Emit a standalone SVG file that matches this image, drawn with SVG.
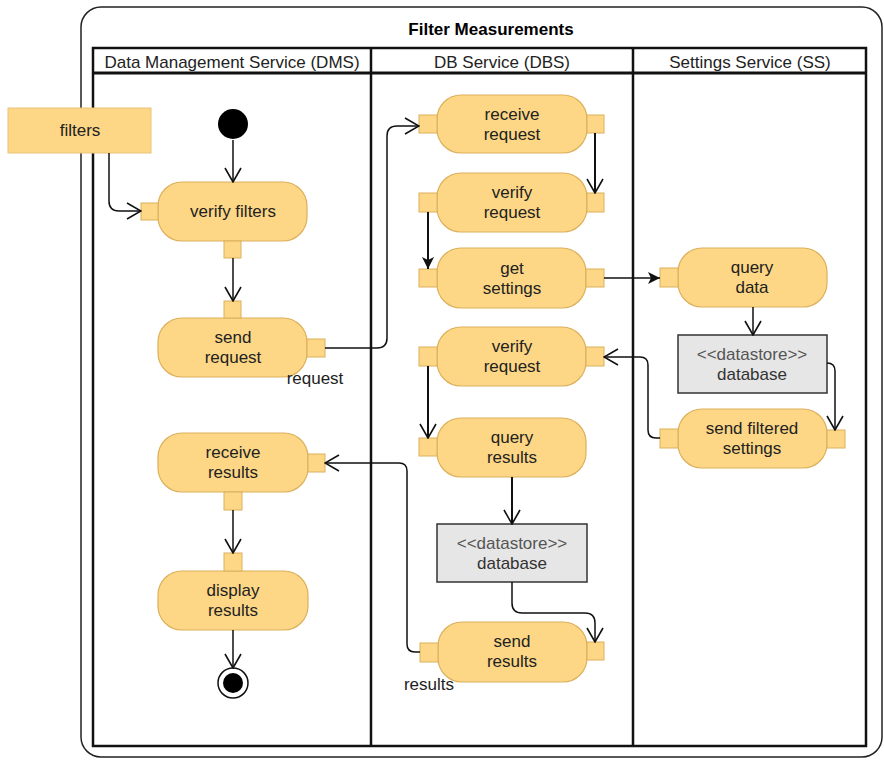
<svg xmlns="http://www.w3.org/2000/svg" width="884" height="760" viewBox="0 0 884 760">
<style>
text{font-family:"Liberation Sans",Arial,sans-serif;font-size:17px;fill:#222;text-anchor:middle}
.title{font-weight:bold;fill:#000}
.act{fill:#fdd785;stroke:#dcb05c;stroke-width:1.2}
.pin{fill:#fdd785;stroke:#dcb05c;stroke-width:1}
.ds{fill:#e6e6e6;stroke:#333;stroke-width:1.5}
.dst{fill:#555}
.c{fill:none;stroke:#111;stroke-width:1.5}
.c2{fill:none;stroke:#111;stroke-width:2}
.lbl{text-anchor:start}
</style>
<defs>
<marker id="open" viewBox="0 0 16 18" refX="15" refY="9" markerWidth="16" markerHeight="18" orient="auto" markerUnits="userSpaceOnUse">
<path d="M1,1 L15,9 L1,17" fill="none" stroke="#111" stroke-width="1.6"/>
</marker>
<marker id="fill" viewBox="0 0 12 12" refX="12" refY="6" markerWidth="12" markerHeight="12" orient="auto" markerUnits="userSpaceOnUse">
<path d="M0,0 L12,6 L0,12 L3,6 Z" fill="#111"/>
</marker>
</defs>
<rect width="884" height="760" fill="#fff"/>
<g id="frame">
<rect x="81" y="7" width="801" height="750" rx="20" fill="none" stroke="#222" stroke-width="1.5"/>
<text class="title" x="491" y="35">Filter Measurements</text>
</g>
<g id="pool">
<rect x="93" y="48" width="773" height="698" fill="none" stroke="#111" stroke-width="2.5"/>
<line x1="93" y1="73" x2="866" y2="73" stroke="#111" stroke-width="3"/>
<line x1="371" y1="48" x2="371" y2="746" stroke="#111" stroke-width="2.5"/>
<line x1="633" y1="48" x2="633" y2="746" stroke="#111" stroke-width="2.5"/>
<text x="232" y="68">Data Management Service (DMS)</text>
<text x="502" y="68">DB Service (DBS)</text>
<text x="750" y="68">Settings Service (SS)</text>
</g>
<g id="filters">
<rect x="8" y="108" width="143" height="45" fill="#fdd785" stroke="#e8c27a" stroke-width="1"/>
<text x="80" y="136">filters</text>
</g>
<g id="initial"><circle cx="233" cy="124" r="15" fill="#000"/></g>
<g id="verify-filters">
<rect class="act" x="158" y="182" width="149" height="59" rx="24"/>
<rect class="pin" x="141" y="203" width="17" height="17"/>
<rect class="pin" x="224" y="241" width="17" height="17"/>
<text x="233" y="217">verify filters</text>
</g>
<g id="send-request">
<rect class="act" x="158" y="318" width="149" height="59" rx="24"/>
<rect class="pin" x="224" y="301" width="17" height="17"/>
<rect class="pin" x="307" y="339" width="18" height="18"/>
<text x="233" y="343">send</text><text x="233" y="363">request</text>
<text x="315" y="384">request</text>
</g>
<g id="receive-request">
<rect class="act" x="437" y="95" width="150" height="58" rx="24"/>
<rect class="pin" x="419" y="115" width="18" height="18"/>
<rect class="pin" x="587" y="115" width="17" height="18"/>
<text x="512" y="120">receive</text><text x="512" y="140">request</text>
</g>
<g id="verify-request-1">
<rect class="act" x="437" y="173" width="150" height="59" rx="24"/>
<rect class="pin" x="419" y="193" width="18" height="19"/>
<rect class="pin" x="587" y="193" width="17" height="19"/>
<text x="512" y="198">verify</text><text x="512" y="218">request</text>
</g>
<g id="get-settings">
<rect class="act" x="437" y="248" width="149" height="60" rx="24"/>
<rect class="pin" x="419" y="269" width="18" height="18"/>
<rect class="pin" x="586" y="269" width="18" height="18"/>
<text x="512" y="274">get</text><text x="512" y="294">settings</text>
</g>
<g id="verify-request-2">
<rect class="act" x="437" y="327" width="149" height="59" rx="24"/>
<rect class="pin" x="419" y="347" width="18" height="19"/>
<rect class="pin" x="586" y="347" width="18" height="19"/>
<text x="512" y="352">verify</text><text x="512" y="372">request</text>
</g>
<g id="query-results">
<rect class="act" x="437" y="418" width="149" height="59" rx="24"/>
<rect class="pin" x="419" y="438" width="18" height="18"/>
<text x="512" y="443">query</text><text x="512" y="463">results</text>
</g>
<g id="datastore-dbs">
<rect class="ds" x="437" y="524" width="150" height="58"/>
<text class="dst" x="512" y="549">&lt;&lt;datastore&gt;&gt;</text><text x="512" y="569" style="fill:#333">database</text>
</g>
<g id="send-results">
<rect class="act" x="438" y="622" width="149" height="60" rx="24"/>
<rect class="pin" x="420" y="643" width="18" height="19"/>
<rect class="pin" x="587" y="642" width="17" height="18"/>
<text x="512" y="647">send</text><text x="512" y="667">results</text>
<text x="429" y="690">results</text>
</g>
<g id="query-data">
<rect class="act" x="678" y="248" width="149" height="59" rx="24"/>
<rect class="pin" x="660" y="268" width="18" height="19"/>
<text x="752" y="273">query</text><text x="752" y="293">data</text>
</g>
<g id="datastore-ss">
<rect class="ds" x="678" y="335" width="149" height="58"/>
<text class="dst" x="752" y="360">&lt;&lt;datastore&gt;&gt;</text><text x="752" y="380" style="fill:#333">database</text>
</g>
<g id="send-filtered-settings">
<rect class="act" x="678" y="409" width="149" height="59" rx="24"/>
<rect class="pin" x="660" y="429" width="18" height="19"/>
<rect class="pin" x="827" y="430" width="18" height="18"/>
<text x="752" y="434">send filtered</text><text x="752" y="454">settings</text>
</g>
<g id="receive-results">
<rect class="act" x="158" y="433" width="150" height="59" rx="24"/>
<rect class="pin" x="308" y="454" width="17" height="18"/>
<rect class="pin" x="224" y="492" width="18" height="18"/>
<text x="233" y="458">receive</text><text x="233" y="478">results</text>
</g>
<g id="display-results">
<rect class="act" x="158" y="571" width="150" height="59" rx="24"/>
<rect class="pin" x="224" y="553" width="18" height="18"/>
<text x="233" y="596">display</text><text x="233" y="616">results</text>
</g>
<g id="final">
<circle cx="233" cy="683" r="15" fill="#fff" stroke="#111" stroke-width="1.5"/>
<circle cx="233" cy="683" r="10" fill="#000"/>
</g>
<g id="connectors">
<path class="c" d="M109,153 V201 Q109,211 119,211 H141" marker-end="url(#open)"/>
<path class="c" d="M233,140 V182" marker-end="url(#open)"/>
<path class="c" d="M233,258 V301" marker-end="url(#open)"/>
<path class="c" d="M325,348 H377 Q387,348 387,338 V136 Q387,126 397,126 H419" marker-end="url(#open)"/>
<path class="c2" d="M595,133 V193" marker-end="url(#open)"/>
<path class="c2" d="M428,212 V269" marker-end="url(#fill)"/>
<path class="c" d="M604,278 H660" marker-end="url(#fill)"/>
<path class="c" d="M753,307 V335" marker-end="url(#open)"/>
<path class="c" d="M827,363 Q835,363 835,371 V430" marker-end="url(#open)"/>
<path class="c" d="M660,438 H656 Q648,438 648,430 V365 Q648,357 640,357 H604" marker-end="url(#open)"/>
<path class="c2" d="M428,366 V438" marker-end="url(#open)"/>
<path class="c2" d="M512,477 V524" marker-end="url(#open)"/>
<path class="c" d="M512,582 V603 Q512,613 522,613 H585 Q595,613 595,623 V642" marker-end="url(#open)"/>
<path class="c" d="M420,652 H415 Q407,652 407,644 V471 Q407,463 399,463 H325" marker-end="url(#open)"/>
<path class="c" d="M233,510 V553" marker-end="url(#open)"/>
<path class="c" d="M233,630 V668" marker-end="url(#open)"/>
</g>
</svg>
